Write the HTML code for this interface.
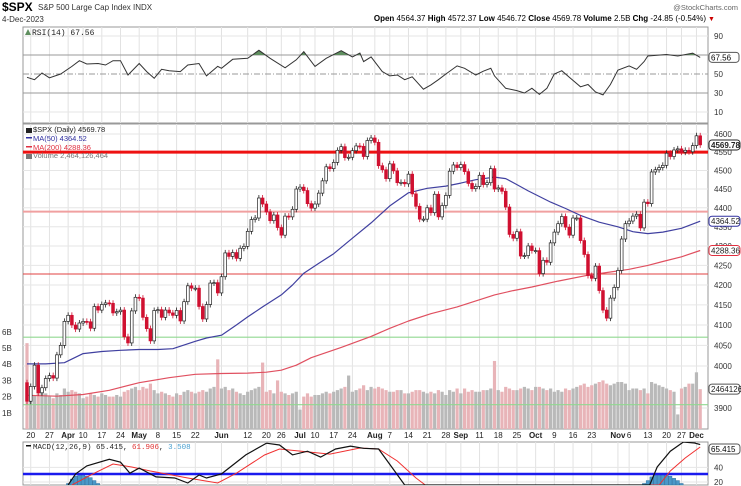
<!DOCTYPE html>
<html><head><meta charset="utf-8">
<style>
html,body{margin:0;background:#fff;overflow:hidden;width:741px;height:486px;}
svg{display:block;font-family:"Liberation Sans",sans-serif;overflow:hidden;}
</style></head>
<body>
<svg id="chart" width="741" height="486" viewBox="0 0 741 486" xmlns="http://www.w3.org/2000/svg">
<rect x="0" y="0" width="741" height="486" fill="#fff"/>
<g>
<text x="2" y="11" font-size="12" font-weight="bold">$SPX</text>
<text x="38" y="10" font-size="8" fill="#333">S&amp;P 500 Large Cap Index  INDX</text>
<text x="2" y="22" font-size="8" fill="#333">4-Dec-2023</text>
<text x="738" y="10" font-size="7.5" fill="#666" text-anchor="end">@StockCharts.com</text>
<text x="706" y="21" font-size="8" text-anchor="end"><tspan font-weight="bold">Open</tspan> 4564.37 <tspan font-weight="bold">High</tspan> 4572.37 <tspan font-weight="bold">Low</tspan> 4546.72 <tspan font-weight="bold">Close</tspan> 4569.78 <tspan font-weight="bold">Volume</tspan> 2.5B <tspan font-weight="bold">Chg</tspan> -24.85 (-0.54%)</text>
<text x="708" y="21" font-size="7" fill="#c00">▼</text>
</g>
<g id="grid"></g>
<g id="rsi"></g>
<g id="price"></g>
<g id="xaxis"></g>
<g id="macd"></g>
</svg>
<script>
const closes=[3916,3951,4002,3936,3948,3970,3977,3971,4027,4050,4109,
4124,4100,4090,4105,4109,4108,4092,4146,4137,4151,4155,4154,4130,4133,4137,4071,4056,4135,4169,
4167,4119,4091,4061,4136,4138,4119,4137,4130,4124,4136,4110,4158,4198,4192,4192,4146,4115,4151,4205,4206,4180,
4221,4282,4273,4283,4268,4294,4299,4338,4369,4373,4426,4410,4389,4366,4381,4348,4328,4378,4376,4396,4450,
4455,4446,4411,4399,4410,4439,4472,4510,4505,4522,4555,4565,4535,4536,4554,4567,4566,4538,4582,4589,
4577,4513,4502,4478,4518,4499,4467,4468,4464,4490,4437,4404,4370,4370,4400,4387,4436,4376,4406,4433,4498,4515,4508,
4516,4497,4465,4451,4457,4487,4462,4467,4505,4450,4453,4444,4402,4330,4320,4337,4274,4275,4300,4288,
4288,4229,4263,4258,4308,4336,4358,4377,4349,4328,4373,4373,4314,4278,4224,4217,4248,4186,4137,4117,4167,4194,
4237,4318,4358,4365,4378,4383,4347,4415,4411,4496,4502,4508,4514,4547,4538,4556,4559,4550,4555,4551,4568,
4595,4570];
const firstOpen=3960;
const volumes=[5.3,2.2,2.1,2.4,2.3,2.2,2.0,1.9,2.2,2.1,2.5,
2.3,2.4,2.3,2.2,1.9,2.0,2.2,2.1,2.0,2.2,2.1,2.0,2.0,2.1,2.0,2.3,2.4,2.5,2.6,
2.4,2.6,2.5,2.8,2.4,2.2,2.3,2.2,2.1,2.0,2.2,2.1,2.3,2.4,2.3,2.2,2.3,2.4,2.3,2.5,2.6,4.3,
2.5,2.6,2.4,2.5,2.3,2.2,2.1,2.3,2.4,2.5,2.6,4.1,2.3,2.4,2.2,3.0,2.3,2.2,2.1,2.2,2.3,
1.2,2.0,2.2,2.0,2.1,2.1,2.2,2.3,2.2,2.3,2.4,2.5,2.6,3.3,2.3,2.4,2.5,2.7,2.4,2.6,
2.5,2.6,2.5,2.4,2.3,2.3,2.4,2.4,2.2,2.2,2.3,2.4,2.4,2.3,2.2,2.3,2.2,2.4,2.3,2.1,2.4,2.3,2.5,
2.2,2.5,2.3,2.4,2.3,2.3,2.4,2.4,2.5,4.2,2.4,2.3,2.6,2.5,2.4,2.4,2.5,2.6,2.5,2.4,
2.6,2.6,2.5,2.4,2.5,2.3,2.4,2.3,2.5,2.4,2.5,2.6,2.7,2.8,2.6,2.7,2.8,2.9,3.0,2.8,2.7,2.8,
2.9,2.9,2.8,2.4,2.5,2.5,2.4,2.5,2.2,2.9,2.8,2.7,2.6,2.5,2.4,2.3,0.9,2.5,2.6,2.8,2.8,
3.5,2.46];
const ma50Idx=[0,5,10,15,20,25,30,35,39,45,48,52,56,59,63,68,71,74,78,82,87,92,97,102,107,112,116,120,125,128,131,134,137,140,144,148,153,158,162,166,170,175,180];
const ma50Val=[4005,4005,4008,4030,4035,4038,4040,4040,4042,4060,4068,4075,4100,4120,4145,4175,4200,4230,4255,4280,4320,4360,4405,4440,4452,4458,4466,4475,4482,4478,4462,4445,4430,4415,4398,4380,4362,4350,4337,4332,4336,4346,4364.52];
const ma200Idx=[0,8,15,22,30,38,45,52,59,64,68,72,76,84,92,97,102,108,115,120,125,130,135,142,150,156,161,166,170,175,180];
const ma200Val=[3930,3928,3932,3942,3960,3972,3980,3982,3983,3985,3990,4002,4020,4045,4072,4092,4110,4128,4145,4160,4175,4186,4195,4210,4225,4233,4240,4250,4260,4272,4288.36];
const rsiIdx=[0,2,4,6,9,12,14,16,19,21,23,25,27,30,32,34,36,38,41,43,46,48,51,52,55,59,62,65,69,72,74,77,80,84,87,89,90,92,95,97,99,101,103,106,108,110,112,115,117,120,122,124,125,128,131,133,135,137,139,141,143,145,148,150,152,154,156,158,161,163,165,166,171,174,178,180];
const rsiVal=[46.5,44,51,46,50,58,64,60.5,61,59.5,64,64,49,61,52.5,45.5,55,53.5,52.5,59.5,61,48,58,56,65.5,66.5,75,66.5,56.5,65,73.5,58,66.5,74.5,68,72,63,68,52.5,48,49,44,47,34,38.5,44,50,58.5,56,49,53,56,48,35,32.5,30,35,28.5,35,50,53.5,46.5,36.5,39,31,28,39,54,58.5,55,63,69,70.5,69,72,67.5];
const macdIdx=[11,13,16,22,25,27.5,30,34.5,39.5,43,46,48,52,58.5,64,67.5,71,75,78.5,82.5,86.5,90,94,97.5,101,110,130,150,160,166.5,168.5,172,175.5,178.5,180];
const macdVal=[14.5,31,42,51,47,32,39,27,25.5,18.6,29.5,25.5,31,57,73,70.5,57,62,54,65,69,66,65,40.5,14.5,-20,-40,-50,-20,14.5,40.5,62,74.6,73.2,71];
const sigIdx=[12,18,23,28,33,43,51,56,63.5,67.5,75,81,89,94,99,104,106.5,120,140,160,169,172,176,180];
const sigVal=[14.5,32,44.6,40.5,35,25.5,18.6,32,56.8,65,61,58,66.4,65,48.6,25.5,14.5,-10,-40,-40,14.5,35,52.7,67.7];
const histIdx=[11,12,13,14,15,16,17,18,19,20,165,166,167,168,169,170,171,172,173,174,175,176,177];
const histVal=[18,24,28,30,30,28,26,22,18,14,18,22,27,29,30,30,30,28,25,22,18,14,10];
const xLabels=["20","27","Apr","10","17","24","May","8","15","22","Jun","12","20","26","Jul","10","17","24","Aug","7","14","21","28","Sep","11","18","25","Oct","9","16","23","Nov","6","13","20","27","Dec"];
const xLabelIdx=[1,6,11,15,20,25,30,35,40,45,52,59,64,68,73,77,82,87,93,97,102,107,112,116,121,126,131,136,141,146,151,158,161,166,171,175,179];
const priceTicks=[4600,4550,4500,4450,4400,4350,4300,4250,4200,4150,4100,4050,4000,3900];
const volTicks=[1,2,3,4,5,6];
const rsiTicks=[90,70,50,30,10];
const macdTicks=[40,20];

const NS="http://www.w3.org/2000/svg";
const L=23,R=708;
const X=i=>27+i*3.74;
const PY=p=>134+1660*Math.log(4600/p);
const VY=v=>429-v*16.2;
const RY=v=>74-(v-50)*0.95;
const MY=v=>Math.min(485,482-(v-20)*0.733);
function mk(parent,tag,attrs){const e=document.createElementNS(NS,tag);for(const k in attrs)e.setAttribute(k,attrs[k]);parent.appendChild(e);return e;}
const grid=document.getElementById('grid'),rsiG=document.getElementById('rsi'),priceG=document.getElementById('price'),xG=document.getElementById('xaxis'),macdG=document.getElementById('macd');

let p1=mk(grid,'rect',{x:L,y:27,width:R-L,height:96,fill:'none',stroke:'#999','stroke-width':1});

let p2=mk(grid,'rect',{x:L,y:124,width:R-L,height:305,fill:'none',stroke:'#999','stroke-width':1});

let p3=mk(grid,'rect',{x:L,y:442,width:R-L,height:43,fill:'none',stroke:'#999','stroke-width':1});

xLabelIdx.forEach((ix,k)=>{
  const x=X(ix);
  [[27,123],[124,429],[442,485]].forEach(r=>{
    const g=mk(grid,'line',{x1:x,x2:x,y1:r[0],y2:r[1],stroke:'#e2e2e2','stroke-width':1});
    
  });
  const t=mk(xG,'text',{x:x,y:438,'font-size':8,'text-anchor':'middle',fill:'#222','font-weight':isNaN(+xLabels[k])?'bold':'normal'});
  t.textContent=xLabels[k];
  
});
priceTicks.forEach(p=>{
  const y=PY(p);
  const g=mk(grid,'line',{x1:L,x2:R,y1:y,y2:y,stroke:'#e6e6e6'});
  
  const t=mk(grid,'text',{x:714,y:y+3,'font-size':8,fill:'#333'});t.textContent=p;
  
});
volTicks.forEach(v=>{
  const t=mk(grid,'text',{x:2,y:VY(v)+3,'font-size':8,fill:'#333'});t.textContent=v+'B';
  
});
rsiTicks.forEach(v=>{
  const y=RY(v);
  if(v===70||v===30){const l=mk(rsiG,'line',{x1:L,x2:R,y1:y,y2:y,stroke:'#999'});}
  else if(v===50){const l=mk(rsiG,'line',{x1:L,x2:R,y1:y,y2:y,stroke:'#999','stroke-dasharray':'6,2,1,2'});}
  else {const l=mk(rsiG,'line',{x1:L,x2:R,y1:y,y2:y,stroke:'#e6e6e6'});}
  if(v!==70){const t=mk(rsiG,'text',{x:714,y:y+3,'font-size':8,fill:'#333'});t.textContent=v;}
});
const rsiPts=rsiIdx.map((ix,k)=>X(ix).toFixed(1)+','+RY(rsiVal[k]).toFixed(1));
mk(rsiG,'clipPath',{id:'above70'});
mk(document.getElementById('above70'),'rect',{x:L,y:0,width:R-L,height:RY(70)});
const rf=mk(rsiG,'polygon',{points:X(rsiIdx[0])+','+RY(70)+' '+rsiPts.join(' ')+' '+X(180)+','+RY(70),fill:'#5f8f5f','clip-path':'url(#above70)'});

const rl=mk(rsiG,'polyline',{points:rsiPts.join(' '),fill:'none',stroke:'#333','stroke-width':1});

let rt=mk(rsiG,'text',{x:32,y:35,'font-size':8,'font-family':'Liberation Mono, monospace',fill:'#222'});rt.textContent='RSI(14) 67.56';

let ri=mk(rsiG,'path',{d:'M25 35 L28 29 L31 35 Z',fill:'#5f8f5f'});
let rb=mk(rsiG,'rect',{x:709,y:RY(67.56)-5,width:30,height:10,rx:3,fill:'#fff',stroke:'#555'});
let rbt=mk(rsiG,'text',{x:711,y:RY(67.56)+3,'font-size':8});rbt.textContent='67.56';

mk(priceG,'clipPath',{id:'pclip'});
mk(document.getElementById('pclip'),'rect',{x:L,y:124,width:R-L,height:305});
const pc=mk(priceG,'g',{'clip-path':'url(#pclip)'});

volumes.forEach((v,i)=>{
  const prev=i?closes[i-1]:firstOpen;
  const b=mk(pc,'rect',{x:X(i)-1.6,y:VY(v),width:3.2,height:429-VY(v),fill:closes[i]<prev?'#e8b4b8':'#b9b9b9'});
  
});
[[4550,'#ee1111',3,'resistance-line-4550'],[4390,'#f0a0a0',2,'line-4390'],[4228,'#e04040',1,'line-4228'],[4070,'#90d890',1.2,'support-line-4070']].forEach(a=>{
  const l=mk(pc,'line',{x1:L,x2:R,y1:PY(a[0]),y2:PY(a[0]),stroke:a[1],'stroke-width':a[2]});
  
});
let vl=mk(pc,'line',{x1:L,x2:R,y1:VY(1.5),y2:VY(1.5),stroke:'#90d890','stroke-width':1.2});

function maPath(idx,val){return idx.map((ix,k)=>(k?'L':'M')+X(ix).toFixed(1)+' '+PY(val[k]).toFixed(1)).join(' ');}
let m200=mk(pc,'path',{d:maPath(ma200Idx,ma200Val),fill:'none',stroke:'#e05060','stroke-width':1.2,'stroke-linejoin':'round'});

let m50=mk(pc,'path',{d:maPath(ma50Idx,ma50Val),fill:'none',stroke:'#4040a0','stroke-width':1.2,'stroke-linejoin':'round'});

closes.forEach((c,i)=>{
  const o=i?closes[i-1]:firstOpen;
  const x=X(i);
  const y1=PY(Math.max(o,c)),y2=PY(Math.min(o,c));
  const up=c>=o;
  const col=up?'#222':'#d01030';
  const w=mk(pc,'line',{x1:x,x2:x,y1:y1-3,y2:y2+3,stroke:col,'stroke-width':0.8});
  
  const b=mk(pc,'rect',{x:x-1.4,y:y1,width:2.8,height:Math.max(1,y2-y1),fill:up?'#fff':'#d01030',stroke:col,'stroke-width':0.7});
  
});
[['$SPX (Daily) 4569.78','#222',132,'price-legend'],['MA(50) 4364.52','#3030a0',141,'ma50-legend'],['MA(200) 4288.36','#e03040',150,'ma200-legend'],['Volume 2,464,126,464','#777',158,'volume-legend']].forEach((a,k)=>{
  const t=mk(priceG,'text',{x:33,y:a[2],'font-size':7.5,fill:a[1],'font-family':'Liberation Sans, sans-serif'});t.textContent=a[0];
  
  const s=mk(priceG,'rect',{x:26,y:a[2]-4,width:6,height:k===0||k===3?5:1.5,fill:a[1]});
  
});
[[PY(4569.78),'4569.78','#222','last-price-box',true],[PY(4364.52),'4364.52','#3030a0','ma50-value-box',false],[PY(4288.36),'4288.36','#e03040','ma200-value-box',false],[VY(2.46),'2464126','#555','volume-value-box',false]].forEach(a=>{
  const b=mk(priceG,'rect',{x:709,y:a[0]-5,width:31,height:10,rx:3,fill:'#fff',stroke:a[2]});
  
  const t=mk(priceG,'text',{x:711,y:a[0]+3,'font-size':8,'font-weight':a[4]?'bold':'normal',fill:'#222'});t.textContent=a[1];
  
});

mk(macdG,'clipPath',{id:'mclip'});
mk(document.getElementById('mclip'),'rect',{x:L,y:442,width:R-L,height:43});
const mc=mk(macdG,'g',{'clip-path':'url(#mclip)'});

macdTicks.forEach(v=>{
  const l=mk(mc,'line',{x1:L,x2:R,y1:MY(v),y2:MY(v),stroke:'#e6e6e6'});
  const t=mk(macdG,'text',{x:714,y:MY(v)+3,'font-size':8,fill:'#333'});t.textContent=v;
});
histIdx.forEach((ix,k)=>{
  const y=MY(histVal[k]);
  const b=mk(mc,'rect',{x:X(ix)-1.7,y:y,width:3.4,height:Math.max(0,485-y),fill:'#4a98c8',stroke:'#2a6a98','stroke-width':0.4});
  
});
let bl=mk(mc,'line',{x1:L,x2:R,y1:474,y2:474,stroke:'#1a1aee','stroke-width':2.5});

function mPath(idx,val){return idx.map((ix,k)=>(k?'L':'M')+X(ix).toFixed(1)+' '+MY(val[k]).toFixed(1)).join(' ');}
let sl=mk(mc,'path',{d:mPath(sigIdx,sigVal),fill:'none',stroke:'#f03030','stroke-width':1});

let ml=mk(mc,'path',{d:mPath(macdIdx,macdVal),fill:'none',stroke:'#111','stroke-width':1.2});

let mt=mk(macdG,'text',{x:33,y:449,'font-size':7.5,'font-family':'Liberation Mono, monospace',fill:'#222'});
mt.innerHTML='MACD(12,26,9) 65.415, <tspan fill="#e03030">61.906</tspan>, <tspan fill="#4aa0d0">3.508</tspan>';

let ms=mk(macdG,'rect',{x:26,y:445,width:5,height:1.5,fill:'#111'});
let mb=mk(macdG,'rect',{x:709,y:444,width:31,height:10,rx:3,fill:'#fff',stroke:'#555'});
let mbt=mk(macdG,'text',{x:711,y:452,'font-size':8});mbt.textContent='65.415';
</script>
</body></html>
